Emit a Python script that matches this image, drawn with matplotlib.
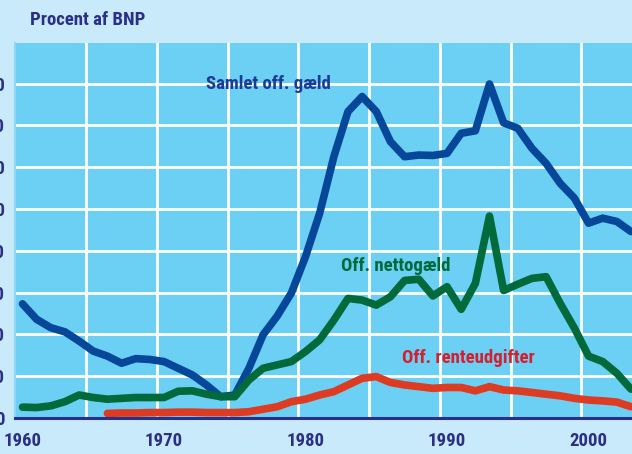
import numpy as np
import matplotlib
matplotlib.use("Agg")
import matplotlib.pyplot as plt
from matplotlib.ticker import FixedLocator

plt.rcParams["font.family"] = ["Roboto Condensed", "Noto Sans Condensed", "Liberation Sans Narrow", "Roboto", "DejaVu Sans"]

# data (procent af BNP)
years = list(range(1960, 2004))
samlet = [27.3, 23.6, 21.6, 20.6, 18.4, 16.0, 14.8, 13.1, 14.2, 14.0,
          13.5, 11.9, 10.3, 7.9, 5.1, 5.5, 11.9, 19.9, 24.4, 29.9,
          38.6, 49.0, 62.5, 73.3, 76.9, 73.3, 66.1, 62.5, 62.9, 62.8,
          63.3, 68.1, 68.7, 79.9, 70.6, 69.3, 64.5, 60.9, 56.1, 52.6,
          46.6, 47.8, 47.0, 44.6]
netto = [2.6, 2.5, 2.9, 3.9, 5.5, 4.9, 4.5, 4.7, 4.9, 4.9,
         4.9, 6.4, 6.5, 5.7, 5.1, 5.1, 9.1, 11.9, 12.7, 13.5,
         15.9, 18.7, 23.4, 28.6, 28.2, 27.0, 29.0, 32.9, 33.2, 29.2,
         31.4, 26.0, 32.2, 48.3, 30.5, 32.0, 33.4, 33.8, 27.4, 21.5,
         14.8, 13.5, 10.7, 6.9]
rente_years = list(range(1966, 2004))
rente = [1.1, 1.2, 1.2, 1.3, 1.3, 1.4, 1.4, 1.3, 1.3, 1.3,
         1.5, 2.1, 2.7, 3.9, 4.5, 5.5, 6.3, 7.9, 9.5, 9.9,
         8.5, 7.9, 7.5, 7.1, 7.3, 7.3, 6.5, 7.5, 6.7, 6.5,
         6.1, 5.7, 5.3, 4.7, 4.3, 4.1, 3.8, 2.7]

year_ticks = [1960, 1970, 1980, 1990, 2000]
y_ticks = [0, 10, 20, 30, 40, 50, 60, 70, 80]

NAVY = "#2b2f86"
BG = "#c8eafa"
PLOT_BG = "#6ccff4"
FS = 13.5

fig = plt.figure(figsize=(6.32, 4.54), dpi=100, facecolor=BG)
ax = fig.add_axes([15 / 632, 36 / 454, 617 / 632, 375 / 454])
ax.set_facecolor(PLOT_BG)

kw = dict(lw=5.5, solid_capstyle="round", solid_joinstyle="round", zorder=3)
ax.plot(years, samlet, color="#07479a", **kw)
ax.plot(years, netto, color="#006a3a", **kw)
ax.plot(rente_years, rente, color="#dd3c22", **kw)

ax.set_xlim(1959.47, 2003.07)
ax.set_ylim(0, 89.7)

ax.xaxis.set_major_locator(FixedLocator(year_ticks))
ax.xaxis.set_minor_locator(FixedLocator([y + 0.5 for y in range(1964, 2003, 5)]))
ax.set_yticks(y_ticks)
ax.grid(True, which="minor", axis="x", color="white", lw=2, zorder=1)
ax.grid(True, which="major", axis="y", color="white", lw=2, zorder=1)
ax.tick_params(axis="both", which="both", length=0)
ax.tick_params(axis="x", pad=10, labelsize=FS, labelcolor=NAVY)
ax.tick_params(axis="y", pad=7.5, labelsize=FS, labelcolor=NAVY)
for lab in ax.get_xticklabels() + ax.get_yticklabels():
    lab.set_fontweight("bold")

for s in ("top", "right"):
    ax.spines[s].set_visible(False)
ax.spines["left"].set_color("#8fd8f5")
ax.spines["left"].set_linewidth(1.5)
ax.spines["bottom"].set_color(NAVY)
ax.spines["bottom"].set_linewidth(2.2)
ax.spines["bottom"].set_zorder(4)

ax.text(1973.0, 79.8, "Samlet off. gæld", color="#1f3a93", fontsize=FS, fontweight="bold", va="center", zorder=5)
ax.text(1982.5, 36.3, "Off. nettogæld", color="#006a3a", fontsize=FS, fontweight="bold", va="center", zorder=5)
ax.text(1986.8, 14.3, "Off. renteudgifter", color="#d4202e", fontsize=FS, fontweight="bold", va="center", zorder=5)

fig.text(30 / 632, 1 - 20 / 454, "Procent af BNP", color=NAVY, fontsize=FS, fontweight="bold", va="center")

fig.savefig("out.png", dpi=100, facecolor=BG)
